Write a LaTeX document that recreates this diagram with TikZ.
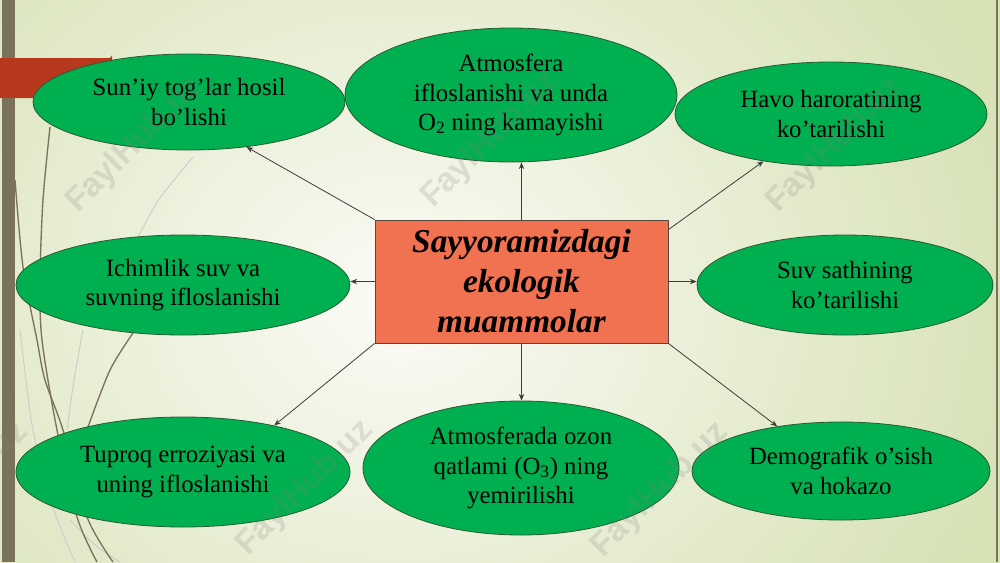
\documentclass[tikz,border=0pt]{standalone}
\usepackage{fontspec}
\setmainfont{Liberation Serif}
\setsansfont{Liberation Sans}
\usetikzlibrary{shapes.geometric,arrows.meta}
\definecolor{bubgreen}{RGB}{0,176,80}
\definecolor{bubedge}{RGB}{40,90,50}
\definecolor{boxfill}{RGB}{240,114,80}
\definecolor{boxedge}{RGB}{90,70,60}
\definecolor{arrgray}{RGB}{60,60,60}
\definecolor{olive}{RGB}{122,114,90}
\definecolor{barred}{RGB}{184,56,30}
\definecolor{bginner}{RGB}{251,251,246}
\definecolor{bgouter}{RGB}{214,225,180}
\begin{document}
\begin{tikzpicture}[x=0.75pt,y=-0.75pt,
  bub/.style={ellipse,draw=bubedge,line width=0.6pt,fill=bubgreen,inner sep=0pt,
    align=center,font=\fontsize{18.6}{22}\selectfont,text=black},
  centerbox/.style={rectangle,draw=boxedge,line width=0.6pt,fill=boxfill,inner sep=0pt,
    align=center,font=\bfseries\itshape\fontsize{25}{30}\selectfont,text=black},
  arr/.style={draw=arrgray,line width=0.6pt,-{Stealth[length=5pt,width=4pt]}},
  deco/.style={draw=olive,line width=1pt},
  decofaint/.style={draw=gray!40,line width=0.7pt},
  wm/.style={font=\sffamily\bfseries\fontsize{25}{25}\selectfont,text=gray,opacity=0.2,rotate=45}
]
\useasboundingbox (0,0) rectangle (1000,562);
% background
\begin{scope}
  \clip (0,0) rectangle (1000,562);
  \shade[inner color=bginner,outer color=bgouter] (-250,-250) rectangle (1050,850);
  % decorative curves
  \draw[decofaint] plot[smooth] coordinates {(193,157) (160,198) (140,233) (125,262)};
  \draw[decofaint] plot[smooth] coordinates {(20,330) (26,380) (33,430) (50,500) (75,562)};
  \draw[decofaint] plot[smooth] coordinates {(83,330) (74,380) (67,430)};
  \draw[decofaint] plot[smooth] coordinates {(70,520) (95,545) (120,562)};
  \draw[deco] plot[smooth] coordinates {(50,127) (43,200) (40,280) (42,340) (57,430) (77,517) (97,562)};
  \draw[deco] plot[smooth] coordinates {(15,180) (23,267) (37,340) (45,380) (63,430) (87,517) (113,562)};
  \draw[deco] plot[smooth] coordinates {(133,333) (110,370) (88,427)};
  % left bar, right line and red bar
  \fill[olive] (2,0) rectangle (15,562);
  \draw[olive,line width=0.8pt] (997,0) -- (997,562);
  \fill[barred] (0,58) -- (109,58) arc[start angle=90,end angle=0,radius=3] -- (112,98) -- (0,98) -- cycle;
\end{scope}

% central box
\node[centerbox,minimum width=219.75pt,minimum height=92.25pt] (c) at (521.5,281.5)
  {Sayyoramizdagi\\ekologik\\muammolar};

% ellipses
\node[bub,minimum width=234pt,minimum height=72pt] (e1) at (189,102)
  {Sun’iy tog’lar hosil\\bo’lishi};
\node[bub,minimum width=249pt,minimum height=100.5pt] (e2) at (511,95)
  {Atmosfera\\ifloslanishi va unda\\O\textsubscript{2} ning kamayishi};
\node[bub,minimum width=234pt,minimum height=78pt] (e3) at (831,114)
  {Havo haroratining\\ko’tarilishi};
\node[bub,minimum width=250.5pt,minimum height=75pt] (e4) at (183,285)
  {Ichimlik suv va\\suvning ifloslanishi};
\node[bub,minimum width=222pt,minimum height=75pt] (e7) at (845,285)
  {Suv sathining\\ko’tarilishi};
\node[bub,minimum width=250.5pt,minimum height=82.5pt] (e5) at (183,472)
  {Tuproq erroziyasi va\\uning ifloslanishi};
\node[bub,minimum width=237pt,minimum height=100.5pt] (e6) at (521,468)
  {Atmosferada ozon\\qatlami (O\textsubscript{3}) ning\\yemirilishi};
\node[bub,minimum width=223.5pt,minimum height=73.5pt] (e8) at (841,471)
  {Demografik o’sish\\va hokazo};

% connectors
\draw[arr] (c.north west) -- (e1.322);
\draw[arr] (c.north) -- (c.north |- e2.south);
\draw[arr] ([yshift=-7.5pt]c.north east) -- (e3.215);
\draw[arr] (c.west) -- (c.west -| e4.east);
\draw[arr] (c.east) -- (c.east -| e7.west);
\draw[arr] (c.south west) -- (e5.27);
\draw[arr] (c.south) -- (c.south |- e6.north);
\draw[arr] (c.south east) -- (e8.145);

% watermarks
\node[wm] (w1) at (135,145) {FaylHub.uz};
\node[wm] (w2) at (490,140) {FaylHub.uz};
\node[wm] (w3) at (835,145) {FaylHub.uz};
\node[wm] (w4) at (-40,490) {FaylHub.uz};
\node[wm] (w5) at (305,488) {FaylHub.uz};
\node[wm] (w6) at (660,490) {FaylHub.uz};
\end{tikzpicture}
\end{document}
